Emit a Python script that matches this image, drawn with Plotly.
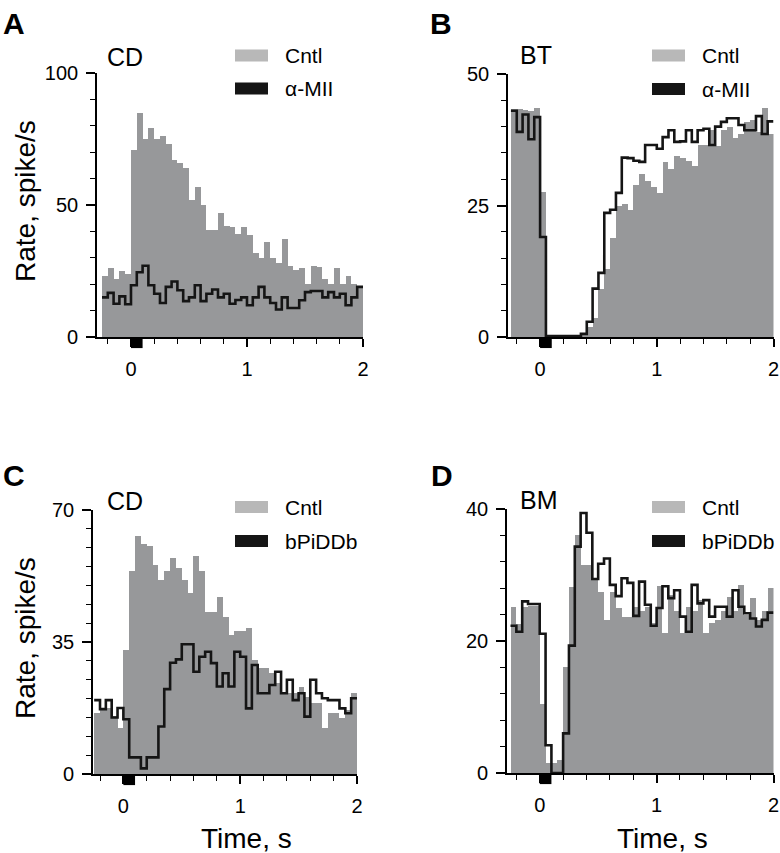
import plotly.graph_objects as go

W, H = 780, 853
FONT = "Liberation Sans, Arial, sans-serif"
GRAY = "#97989a"
LEGEND_GRAY = "#b8b8b8"
BLACK = "#151515"

# histogram bins: 0.05 s from -0.25 to 2.0 s
BIN = 0.05
T_START = -0.25
N_BINS = 45
STIM = (0.0, 0.1)

# Panel A - CD, Cntl vs alpha-MII
cntl_a = [23, 26, 22, 25, 24, 71, 85, 75, 79, 75, 76, 73, 67, 66, 64, 52, 57, 50,
          40.7, 40.7, 47, 42, 41.5, 39, 41.7, 38.5, 32, 30, 36, 30, 28, 37, 27,
          25.5, 26, 20, 27, 26.5, 22, 20, 26, 20, 23, 20, 19]
amii_a = [15, 16.7, 12.6, 15.4, 12.4, 19.6, 24.5, 27, 19.6, 16.4, 12.9, 19, 21,
          17.7, 13.6, 15, 19.6, 13.6, 16.4, 18, 15, 16.4, 12.6, 14, 15, 12, 15,
          19, 15, 12.9, 10.4, 15, 11, 11, 13.9, 17, 17.4, 17.4, 15, 17, 15, 16.4,
          12, 15, 19]

# Panel B - BT, Cntl vs alpha-MII
cntl_b = [43.3, 43.3, 43.1, 43, 43.6, 27.5, 0, 0, 0, 0, 0, 0, 0.3, 1.9, 3.7,
          9.2, 13, 18.8, 25, 25.3, 24.1, 28.9, 30.9, 29.7, 28.5, 27.3, 33.3, 32,
          34.5, 34, 33.5, 32.5, 36.5, 36.5, 39.3, 36.3, 39.3, 40, 37.8, 38.5,
          40.9, 41.2, 39, 43.5, 38.6]
amii_b = [43, 39, 42.3, 37.6, 41.8, 19, 0.2, 0.2, 0.2, 0.2, 0.2, 0.2, 0.6, 2.9,
          9.2, 12.2, 23.6, 24.2, 27.4, 34.1, 34, 33.5, 33.3, 36.5, 36.5, 35.8,
          38, 39.3, 37.1, 37.2, 39.3, 37.1, 39.3, 39.6, 36.5, 40, 40.9, 41.6,
          41.6, 40.3, 39.3, 39.3, 42, 38.6, 41]

# Panel C - CD, Cntl vs bPiDDb
cntl_c = [16.1, 17, 17.5, 15.5, 12.1, 33, 53.7, 63, 61, 60.5, 55.4, 51.5, 53.7,
          57.2, 54.6, 51.5, 47.9, 57.8, 53.7, 43, 43, 47, 41.7, 36.9, 37.8, 38,
          38.8, 30.2, 28, 28, 26.7, 24, 21.4, 21.4, 21.4, 23.2, 20.5, 18.7, 18.7,
          12.1, 16.1, 16.1, 14.8, 17, 21.4]
bpiddb_c = [19.6, 17.2, 19.6, 15, 17.5, 14.5, 4.4, 4.4, 1.5, 4.4, 4.4, 12.6,
            22.5, 29.5, 30.4, 34.4, 34.4, 27.1, 31.1, 32.4, 29.4, 23.2, 26.7,
            23.2, 32.4, 31.1, 17.4, 28.9, 21.4, 21.4, 23.6, 27.1, 21.4, 25, 19.6,
            21.4, 15.2, 25, 21.4, 20.1, 19.6, 19.6, 17.4, 16.1, 20.1]

# Panel D - BM, Cntl vs bPiDDb
cntl_d = [25.1, 22.6, 25.2, 25.3, 25.3, 10.5, 1.5, 1.5, 2, 16.1, 28.2, 36.1,
          31.5, 31.5, 29.5, 27.5, 23.2, 27.5, 25, 23.7, 23.7, 25.2, 24.5, 25.2,
          22.7, 28.4, 21.2, 27, 24.5, 21.2, 25.2, 24.5, 26.2, 21.2, 22.7, 23.2,
          24.5, 26.7, 24.5, 28.5, 24, 26.5, 23.2, 24.5, 28]
bpiddb_d = [22.3, 21.4, 26, 25.6, 25.6, 21.1, 4.2, 0, 0, 6, 19.3, 34.3, 39.4,
            36.4, 29.4, 31.7, 32.5, 28.5, 26.8, 29.5, 28.8, 23.8, 29, 25.5, 22.3,
            25, 28.3, 26.5, 27.7, 23.7, 21.4, 28.5, 25.7, 26.2, 23.7, 25.2, 25.2,
            23.7, 27.7, 25.2, 24.2, 23.4, 22.2, 23.2, 24.3]

x_ticks = [0, 1, 2]


def px(x):
    return x / W


def py(y):
    return 1 - y / H


# layout of each panel (pixel positions measured on the reference)
panels = [
    dict(letter="A", area="CD", cntl=cntl_a, drug=amii_a, drug_name="α-MII",
         ymax=100, yticks=[0, 50, 100], yminor=10,
         xdom=(97, 363), xrange=(-0.293, 2.0), ydom=(337, 73),
         letter_xy=(14, 24), area_xy=(125, 57), leg_x=235, leg_y=(55.5, 88.5),
         ytitle_y=201, xtitle=False),
    dict(letter="B", area="BT", cntl=cntl_b, drug=amii_b, drug_name="α-MII",
         ymax=50, yticks=[0, 25, 50], yminor=5,
         xdom=(508, 773.5), xrange=(-0.275, 2.0), ydom=(337, 74),
         letter_xy=(441, 24), area_xy=(536, 55), leg_x=652, leg_y=(55.5, 89),
         ytitle_y=None, xtitle=False),
    dict(letter="C", area="CD", cntl=cntl_c, drug=bpiddb_c, drug_name="bPiDDb",
         ymax=70, yticks=[0, 35, 70], yminor=5,
         xdom=(93, 357), xrange=(-0.26, 2.0), ydom=(774, 510),
         letter_xy=(14, 476), area_xy=(125, 501), leg_x=235, leg_y=(507, 541),
         ytitle_y=638, xtitle=True),
    dict(letter="D", area="BM", cntl=cntl_d, drug=bpiddb_d, drug_name="bPiDDb",
         ymax=40, yticks=[0, 20, 40], yminor=4,
         xdom=(507, 773.5), xrange=(-0.28, 2.0), ydom=(773, 509),
         letter_xy=(442, 476), area_xy=(539, 500), leg_x=652, leg_y=(507, 541),
         ytitle_y=None, xtitle=True),
]

edges = [T_START + BIN * k for k in range(N_BINS + 1)]
centers = [T_START + BIN * (k + 0.5) for k in range(N_BINS)]

fig = go.Figure()
shapes = []
annotations = []
layout_axes = {}

for i, p in enumerate(panels, start=1):
    sx = "" if i == 1 else str(i)
    xa, ya = "x" + sx, "y" + sx

    fig.add_trace(go.Bar(
        x=centers, y=p["cntl"], width=BIN,
        marker=dict(color=GRAY, line_width=0),
        xaxis=xa, yaxis=ya, name="Cntl",
    ))
    fig.add_trace(go.Scatter(
        x=edges, y=p["drug"] + [p["drug"][-1]],
        mode="lines", line=dict(color=BLACK, width=2.6, shape="hv"),
        xaxis=xa, yaxis=ya, name=p["drug_name"],
    ))

    layout_axes["xaxis" + sx] = dict(
        domain=[px(p["xdom"][0]), px(p["xdom"][1])],
        range=list(p["xrange"]), anchor=ya,
        showline=True, linecolor="black", linewidth=1.6,
        showgrid=False, zeroline=False, automargin=False,
        ticks="outside", tickvals=x_ticks, ticklen=8, tickwidth=1.6,
        tickcolor="black", ticklabelstandoff=5,
        minor=dict(dtick=0.2, tick0=0, ticks="outside", ticklen=5,
                   tickwidth=1.4, tickcolor="black", showgrid=False),
        tickfont=dict(size=20, color="black", family=FONT),
    )
    layout_axes["yaxis" + sx] = dict(
        domain=[py(p["ydom"][0]), py(p["ydom"][1])],
        range=[0, p["ymax"]], anchor=xa,
        showline=True, linecolor="black", linewidth=1.6,
        showgrid=False, zeroline=False, automargin=False,
        ticks="outside", tickvals=p["yticks"], ticklen=9, tickwidth=1.6,
        tickcolor="black", ticklabelstandoff=4,
        minor=dict(dtick=p["yminor"], tick0=0, ticks="outside", ticklen=5,
                   tickwidth=1.4, tickcolor="black", showgrid=False),
        tickfont=dict(size=20, color="black", family=FONT),
    )

    # stimulus marker under the time axis
    shapes.append(dict(type="rect", xref=xa, yref=ya + " domain",
                       x0=STIM[0], x1=STIM[1], y0=-0.042, y1=-0.004,
                       fillcolor="black", line_width=0, layer="above"))

    # legend swatches
    lx = p["leg_x"]
    for yc, col in zip(p["leg_y"], [LEGEND_GRAY, BLACK]):
        shapes.append(dict(type="rect", xref="paper", yref="paper",
                           x0=px(lx), x1=px(lx + 33), y0=py(yc + 6), y1=py(yc - 6),
                           fillcolor=col, line_width=0))
    for yc, txt in zip(p["leg_y"], ["Cntl", p["drug_name"]]):
        annotations.append(dict(text=txt, x=px(lx + 48), y=py(yc), xref="paper",
                                yref="paper", xanchor="left", yanchor="middle",
                                showarrow=False,
                                font=dict(size=21, color="black", family=FONT)))

    # panel letter and recording area
    annotations.append(dict(text="<b>%s</b>" % p["letter"], x=px(p["letter_xy"][0]),
                            y=py(p["letter_xy"][1]), xref="paper", yref="paper",
                            xanchor="center", yanchor="middle", showarrow=False,
                            font=dict(size=30, color="black", family=FONT)))
    annotations.append(dict(text=p["area"], x=px(p["area_xy"][0]),
                            y=py(p["area_xy"][1]), xref="paper", yref="paper",
                            xanchor="center", yanchor="middle", showarrow=False,
                            font=dict(size=25, color="black", family=FONT)))

    if p["ytitle_y"] is not None:
        annotations.append(dict(text="Rate, spike/s", x=px(25), y=py(p["ytitle_y"]),
                                xref="paper", yref="paper", textangle=-90,
                                xanchor="center", yanchor="middle", showarrow=False,
                                font=dict(size=28, color="black", family=FONT)))
    if p["xtitle"]:
        annotations.append(dict(text="Time, s", x=1.05, y=py(838), xref=xa,
                                yref="paper", xanchor="center", yanchor="middle",
                                showarrow=False,
                                font=dict(size=28, color="black", family=FONT)))

fig.update_layout(
    width=W, height=H,
    margin=dict(l=0, r=0, t=0, b=0, pad=0, autoexpand=False),
    paper_bgcolor="white", plot_bgcolor="white",
    barmode="overlay", bargap=0,
    showlegend=False,
    shapes=shapes, annotations=annotations,
    font=dict(family=FONT, color="black"),
    **layout_axes,
)

# the page's default body margin would push the 780x853 figure off the window
fig.write_html(
    "out.html",
    config={"displayModeBar": False},
    post_script="document.body.style.margin='0';"
                "document.body.style.padding='0';"
                "document.body.style.overflow='hidden';",
)
